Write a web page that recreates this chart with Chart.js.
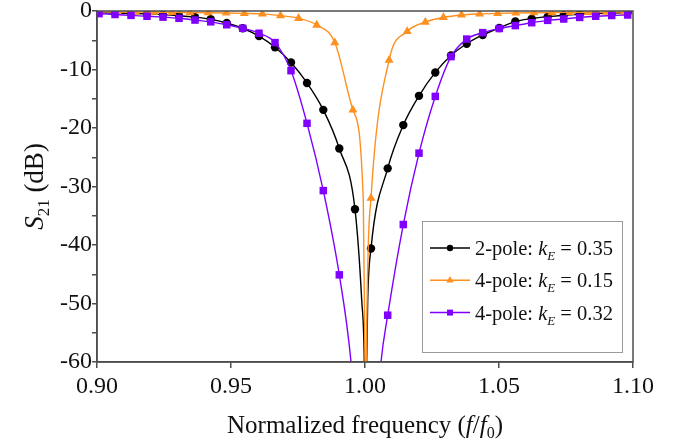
<!DOCTYPE html>
<html>
<head>
<meta charset="utf-8">
<script src="https://cdn.jsdelivr.net/npm/chart.js@4.4.1/dist/chart.umd.min.js"></script>
<style>
  html, body { margin: 0; padding: 0; background: #fff; }
  #wrap { width: 677px; height: 446px; }
</style>
</head>
<body>
<div id="wrap"><canvas id="grafico"></canvas></div>
<script>
// marker positions (f/f0) shared by the 2-pole and the 4-pole kE=0.32 curves
const freqA = [0.90075, 0.90672, 0.91269, 0.91866, 0.92463, 0.93060, 0.93657, 0.94243, 0.94840, 0.95437,
               0.96045, 0.96642, 0.97239, 0.97836, 0.98444, 0.99041, 0.99627, 1.00224, 1.00847, 1.01429,
               1.02015, 1.02623, 1.03209, 1.03795, 1.04392, 1.05011, 1.05608, 1.06220, 1.06817, 1.07414,
               1.08011, 1.08608, 1.09205, 1.09802];
// marker positions for the 4-pole kE=0.15 curve
const freqB = [0.90093, 0.90769, 0.91444, 0.92119, 0.92795, 0.93470, 0.94146, 0.94821, 0.95496, 0.96172,
               0.96847, 0.97522, 0.98198, 0.98873, 0.99549, 1.00224, 1.00899, 1.01575, 1.02250, 1.02925,
               1.03601, 1.04276, 1.04951, 1.05627, 1.06302, 1.06978, 1.07653, 1.08328, 1.09004, 1.09679];

// S21 (dB) at the markers
const db2pole035 = [-0.3, -0.35, -0.42, -0.5, -0.62, -0.8, -1.05, -1.4, -2.05, -2.95,
                    -4.3, -6.2, -8.8, -12.3, -16.9, -23.5, -33.9, -40.6, -26.9, -19.5,
                    -14.5, -10.5, -7.6, -5.6, -4.1, -2.9, -1.8, -1.3, -0.97, -0.72,
                    -0.55, -0.42, -0.33, -0.27];
const db4pole015 = [-0.15, -0.17, -0.19, -0.21, -0.24, -0.27, -0.3, -0.34, -0.4, -0.5,
                    -0.8, -1.25, -2.4, -5.4, -16.9, -32.0, -8.4, -3.5, -1.9, -1.1,
                    -0.68, -0.5, -0.4, -0.34, -0.3, -0.27, -0.24, -0.22, -0.2, -0.18];
const db4pole032 = [-0.45, -0.6, -0.75, -0.9, -1.05, -1.25, -1.55, -1.85, -2.35, -2.96,
                    -3.8, -5.4, -10.2, -19.2, -30.7, -45.1, null, null, -52.0, -36.5,
                    -24.3, -14.6, -7.8, -4.8, -3.7, -3.0, -2.5, -2.0, -1.6, -1.37,
                    -1.1, -0.9, -0.77, -0.68];

// extra points in the notch (no marker there)
const notch2pole035F = [0.99877, 0.99974, 1.00019, 1.00063, 1.00101];
const notch2pole035Db = [-49.4, -60, -80, -60, -49.4];
const notch4pole015F = [0.99937, 1.00000, 1.00026, 1.00052];
const notch4pole015Db = [-32.3, -60, -90, -60];
const notch4pole032F = [0.99478, 1.00037, 1.00597];
const notch4pole032Db = [-60, -95, -60];

const xTicks = [0.90, 0.95, 1.00, 1.05, 1.10];

const serif = '"Liberation Serif", "DejaVu Serif", serif';

function montarPontos(freq, db, notchF, notchDb) {
    const pts = [];
    freq.forEach((f, i) => { if (db[i] !== null) pts.push({ x: f, y: db[i], m: true }); });
    notchF.forEach((f, i) => pts.push({ x: f, y: notchDb[i], m: false }));
    return pts.sort((a, b) => a.x - b.x);
}

const series = [
    { label: '2-pole', k: '0.35', cor: '#000000', estilo: 'circle', raio: 4.2, leg: 3.2,
      data: montarPontos(freqA, db2pole035, notch2pole035F, notch2pole035Db), order: 2 },
    { label: '4-pole', k: '0.15', cor: '#FF8F1F', estilo: 'triangle', raio: 5.2, leg: 4.2,
      data: montarPontos(freqB, db4pole015, notch4pole015F, notch4pole015Db), order: 1 },
    { label: '4-pole', k: '0.32', cor: '#7F00FF', estilo: 'rect', raio: 5.3, leg: 4.2,
      data: montarPontos(freqA, db4pole032, notch4pole032F, notch4pole032Db), order: 0 }
];

// writes a run of text pieces (normal / italic / subscript), returns the width
function textoRico(ctx, partes, x, y, medir) {
    let w = 0;
    partes.forEach(p => {
        ctx.font = (p.it ? 'italic ' : '') + p.size + 'px ' + serif;
        if (!medir) ctx.fillText(p.t, x + w, y + (p.dy || 0));
        w += ctx.measureText(p.t).width;
    });
    return w;
}

function marcador(ctx, estilo, x, y, r) {
    Chart.helpers.drawPoint(ctx, { pointStyle: estilo, rotation: 0, radius: r, borderWidth: 0 }, x, y);
}

const extras = {
    id: 'extras',
    afterDraw(chart) {
        const { ctx, chartArea: a } = chart;
        ctx.save();
        // frame
        ctx.strokeStyle = '#4d4d4d';
        ctx.lineWidth = 1.5;
        ctx.strokeRect(a.left, a.top, a.right - a.left, a.bottom - a.top);

        ctx.fillStyle = '#111';
        ctx.textBaseline = 'alphabetic';
        ctx.textAlign = 'left';

        // x title
        const xt = [
            { t: 'Normalized frequency (', size: 25 },
            { t: 'f', size: 25, it: true },
            { t: '/', size: 25 },
            { t: 'f', size: 25, it: true },
            { t: '0', size: 16, dy: 5 },
            { t: ')', size: 25 }
        ];
        const wx = textoRico(ctx, xt, 0, 0, true);
        textoRico(ctx, xt, (a.left + a.right) / 2 - wx / 2, 433, false);

        // y title
        const yt = [
            { t: 'S', size: 27, it: true },
            { t: '21', size: 17, dy: 6 },
            { t: ' (dB)', size: 27 }
        ];
        const wy = textoRico(ctx, yt, 0, 0, true);
        ctx.save();
        ctx.translate(43, (a.top + a.bottom) / 2);
        ctx.rotate(-Math.PI / 2);
        textoRico(ctx, yt, -wy / 2, 0, false);
        ctx.restore();

        // legend
        const bx = a.left + 325, by = a.top + 210, bw = 200, bh = 131;
        ctx.fillStyle = '#fff';
        ctx.fillRect(bx, by, bw, bh);
        ctx.strokeStyle = '#9a9a9a';
        ctx.lineWidth = 1;
        ctx.strokeRect(bx + 0.5, by + 0.5, bw, bh);
        series.forEach((s, i) => {
            const yy = by + 27 + i * 32.3;
            ctx.strokeStyle = s.cor;
            ctx.lineWidth = 1.5;
            ctx.beginPath();
            ctx.moveTo(bx + 8, yy);
            ctx.lineTo(bx + 48, yy);
            ctx.stroke();
            ctx.fillStyle = s.cor;
            marcador(ctx, s.estilo, bx + 28, yy, s.leg);
            ctx.fillStyle = '#111';
            textoRico(ctx, [
                { t: s.label + ': ', size: 20.5 },
                { t: 'k', size: 20.5, it: true },
                { t: 'E', size: 13, it: true, dy: 5 },
                { t: ' = ' + s.k, size: 20.5 }
            ], bx + 53, yy + 7, false);
        });
        ctx.restore();
    }
};

const ctx = document.getElementById('grafico').getContext('2d');

new Chart(ctx, {
    type: 'line',
    data: {
        datasets: series.map(s => ({
            label: s.label + ' ' + s.k,
            data: s.data,
            order: s.order,
            borderColor: s.cor,
            backgroundColor: s.cor,
            borderWidth: 1.4,
            pointStyle: s.estilo,
            pointRadius: c => (c.raw && c.raw.m ? s.raio : 0),
            pointHoverRadius: c => (c.raw && c.raw.m ? s.raio : 0),
            pointBorderWidth: 0,
            cubicInterpolationMode: 'monotone',
            fill: false
        }))
    },
    options: {
        responsive: true,
        maintainAspectRatio: false,
        animation: false,
        events: [],
        layout: { padding: { top: 11, right: 44, left: 0, bottom: 0 } },
        plugins: {
            legend: { display: false },
            tooltip: { enabled: false }
        },
        scales: {
            x: {
                type: 'linear',
                min: 0.9,
                max: 1.1,
                afterBuildTicks: scale => { scale.ticks = xTicks.map(v => ({ value: v })); },
                afterFit: scale => { scale.height = 84; scale.paddingLeft = 0; scale.paddingRight = 0; },
                ticks: {
                    callback: v => v.toFixed(2),
                    font: { family: serif, size: 24 },
                    color: '#111',
                    padding: 4,
                    maxRotation: 0,
                    autoSkip: false
                },
                grid: { drawOnChartArea: false, drawTicks: true, tickLength: 6, color: '#4d4d4d', lineWidth: 1.5 },
                border: { display: true, color: '#4d4d4d', width: 1.5 }
            },
            y: {
                min: -60,
                max: 0,
                afterFit: scale => { scale.width = 97; scale.paddingTop = 0; scale.paddingBottom = 0; },
                ticks: {
                    stepSize: 5,
                    callback: v => (v % 10 === 0 ? String(v) : ''),
                    font: { family: serif, size: 24 },
                    color: '#111',
                    padding: 0,
                    autoSkip: false
                },
                grid: { drawOnChartArea: false, drawTicks: true, tickLength: 5, color: '#4d4d4d', lineWidth: 1.5 },
                border: { display: true, color: '#4d4d4d', width: 1.5 }
            }
        }
    },
    plugins: [extras]
});
</script>
</body>
</html>
